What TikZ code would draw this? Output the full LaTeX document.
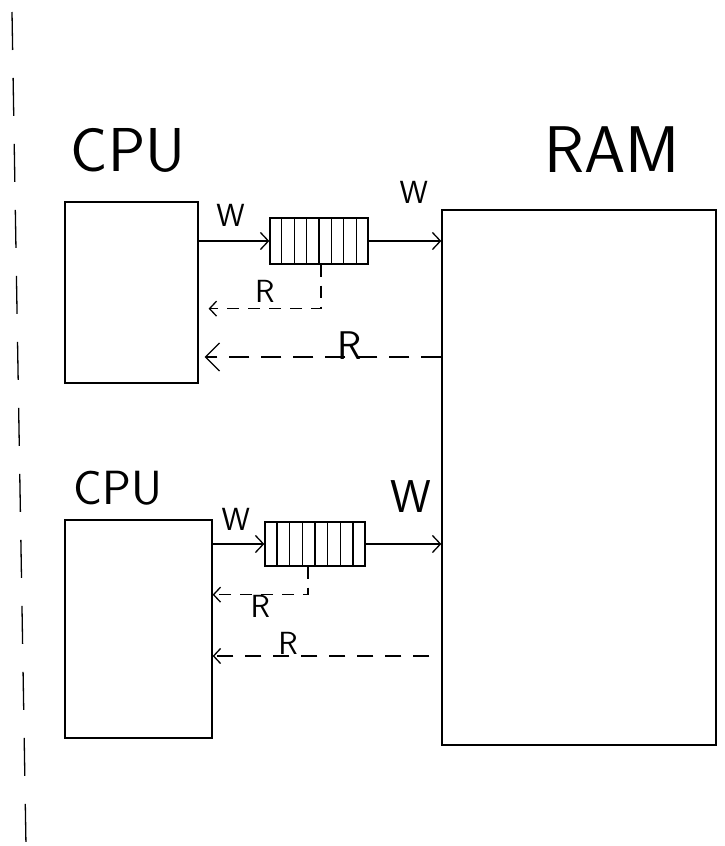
\documentclass[tikz,border=0pt]{standalone}
\usetikzlibrary{arrows.meta,calc}
\tikzset{
  box/.style={draw,inner sep=0pt},
  buf/.style={draw,inner sep=0pt},
  wr/.style={-{Straight Barb[length=8pt,width=17pt]}},
  rd/.style={dash pattern=on 12pt off 9pt,-{Straight Barb[length=7pt,width=15pt]}},
  lbl/.style={font=\sffamily\fontsize{32}{32}\selectfont},
}
\begin{document}
\begin{tikzpicture}[x=1pt,y=-1pt,line width=1.3pt]
\useasboundingbox (0,0) rectangle (724,846);
% dashed separator on the left
\draw[dash pattern=on 38pt off 28pt] (12,12) -- (26,846);
% RAM
\node[box,minimum width=274pt,minimum height=535pt] (ram) at (579,477.5) {};
\node[font=\sffamily\fontsize{66}{66}\selectfont] (ramlbl) at (612,150) {RAM};
% top CPU and its write buffer
\node[font=\sffamily\fontsize{62}{62}\selectfont] (cpuAlbl) at (128,150) {CPU};
\node[box,minimum width=133pt,minimum height=181pt] (cpuA) at (131.5,292.5) {};
\node[buf,minimum width=98pt,minimum height=46pt] (bufA) at (319,241) {};
\draw[wr] (cpuA.east |- bufA.west) -- (bufA.west) node[lbl,pos=0.45,above=11pt] {W};
\draw[wr] (bufA.east) -- (bufA.east -| ram.west) node[lbl,pos=0.62,above=34pt] {W};
\draw[rd] ([xshift=2pt]bufA.south) -- ++(0,44) coordinate (rA) -- ([xshift=10pt]rA -| cpuA.east) node[lbl,midway,above=2pt] {R};
\draw[rd,dash pattern=on 20pt off 12pt,-{Straight Barb[length=14pt,width=28pt]},shorten >=6pt] (ram.west |- 0,357) -- (cpuA.east |- 0,357)
  node[font=\sffamily\fontsize{40}{40}\selectfont,pos=0.38,above=-6pt] {R};
% bottom CPU and its write buffer
\node[font=\sffamily\fontsize{48}{48}\selectfont] (cpuBlbl) at (118,488) {CPU};
\node[box,minimum width=147pt,minimum height=218pt] (cpuB) at (138.5,629) {};
\node[buf,minimum width=100pt,minimum height=44pt] (bufB) at (315,544) {};
\draw[wr] (cpuB.east |- bufB.west) -- (bufB.west) node[lbl,pos=0.45,above=10pt] {W};
\draw[wr] (bufB.east) -- (bufB.east -| ram.west) node[font=\sffamily\fontsize{46}{46}\selectfont,pos=0.6,above=28pt] {W};
\draw[rd] ([xshift=-7pt]bufB.south) -- ++(0,28) coordinate (rB) -- (rB -| cpuB.east) node[lbl,midway,below=-3pt] {R};
\draw[rd,dash pattern=on 16pt off 12pt,shorten <=12pt] (ram.west |- 0,656) -- (cpuB.east |- 0,656) node[lbl,pos=0.67,above=-2pt] {R};
% cells of the buffers
\foreach \b in {bufA,bufB}
  \foreach \i in {1,...,7}
    \draw ($(\b.north west)!\i/8!(\b.north east)$) -- ($(\b.south west)!\i/8!(\b.south east)$);
\end{tikzpicture}
\end{document}
